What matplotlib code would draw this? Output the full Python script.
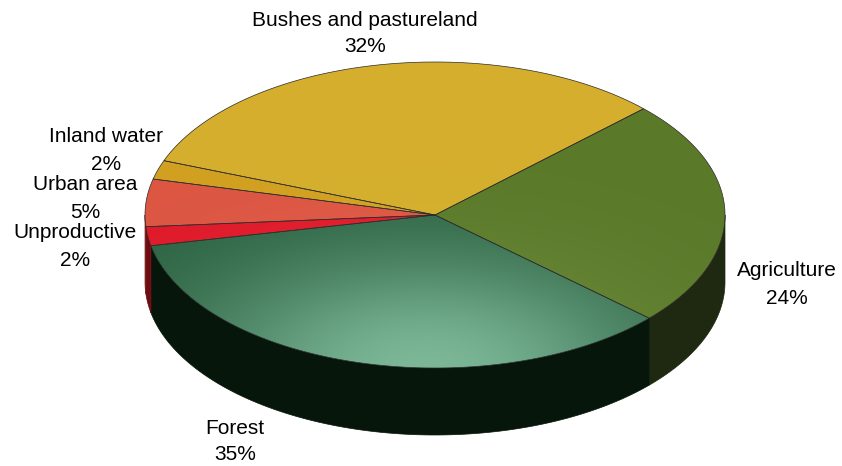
# land use, 3D-looking pie
import numpy as np
import matplotlib.pyplot as plt
from matplotlib.patches import Polygon
from matplotlib.colors import to_rgb

labels = ["Agriculture", "Forest", "Unproductive", "Urban area", "Inland water", "Bushes and pastureland"]
shares = [24, 35, 2, 5, 2, 32]
top_dark = ["#5a7a2a", "#2a6040", "#de1a2a", "#dc5642", "#d2a020", "#d4ae2c"]
top_light = ["#728f40", "#7cb898", "#f03848", "#ea7060", "#e0b440", "#dcbc40"]
side_colors = ["#1f2810", "#06160a", "#6e0c12", "#7a2418", "#6a5010", "#6a5a14"]

# label placement (x, name line y, percent line y), pixel coords
label_pos = [(787, 271, 298), (235, 428, 455), (75, 233, 260),
             (85, 185, 212), (106, 137, 164), (365, 20, 47)]

plt.rcParams['font.family'] = ['Liberation Sans', 'DejaVu Sans']

fig = plt.figure(figsize=(8.42, 4.66), dpi=100)
ax = fig.add_axes([0, 0, 1, 1])
ax.set_xlim(0, 842)
ax.set_ylim(466, 0)
ax.axis('off')

cx, cy, a, b, depth = 435, 215, 290, 153, 67
start = 44.0


def ell(t):
    t = np.radians(t)
    return cx + a * np.cos(t), cy - b * np.sin(t)


bounds = start - np.concatenate([[0], np.cumsum(shares)]) * 3.6

# side walls (front half only)
for i in range(len(shares)):
    hi, lo = bounds[i], bounds[i + 1]
    for k in range(-2, 2):
        s0, s1 = max(lo, -180 + 360 * k), min(hi, 360 * k)
        if s1 <= s0:
            continue
        t = np.linspace(s0, s1, 100)
        x, y = ell(t)
        pts = np.vstack([np.column_stack([x, y]), np.column_stack([x[::-1], y[::-1] + depth])])
        ax.add_patch(Polygon(pts, closed=True, fc=side_colors[i], ec=side_colors[i], lw=0.5))

# shading field for the tops
X, Y = np.meshgrid(np.arange(842) + 0.5, np.arange(466) + 0.5)
g = np.exp(-(((X - 425) / 230) ** 2 + ((Y - 370) / 115) ** 2))

for i in range(len(shares)):
    hi, lo = bounds[i], bounds[i + 1]
    t = np.linspace(hi, lo, 200)
    x, y = ell(t)
    pts = np.vstack([[cx, cy], np.column_stack([x, y])])
    poly = Polygon(pts, closed=True, fc='none', ec='#2a2a2a', lw=0.5, zorder=3)
    ax.add_patch(poly)
    c0 = np.array(to_rgb(top_dark[i]))
    c1 = np.array(to_rgb(top_light[i]))
    img = c0 + (c1 - c0) * g[..., None]
    im = ax.imshow(img, extent=(0, 842, 466, 0), zorder=2, interpolation='bilinear')
    im.set_clip_path(poly)

ax.set_xlim(0, 842)
ax.set_ylim(466, 0)

for i, name in enumerate(labels):
    lx, y1, y2 = label_pos[i]
    ax.text(lx, y1, name, fontsize=15, ha='center', va='center')
    ax.text(lx, y2, f"{shares[i]}%", fontsize=15, ha='center', va='center')

fig.savefig("out.png", dpi=100)
